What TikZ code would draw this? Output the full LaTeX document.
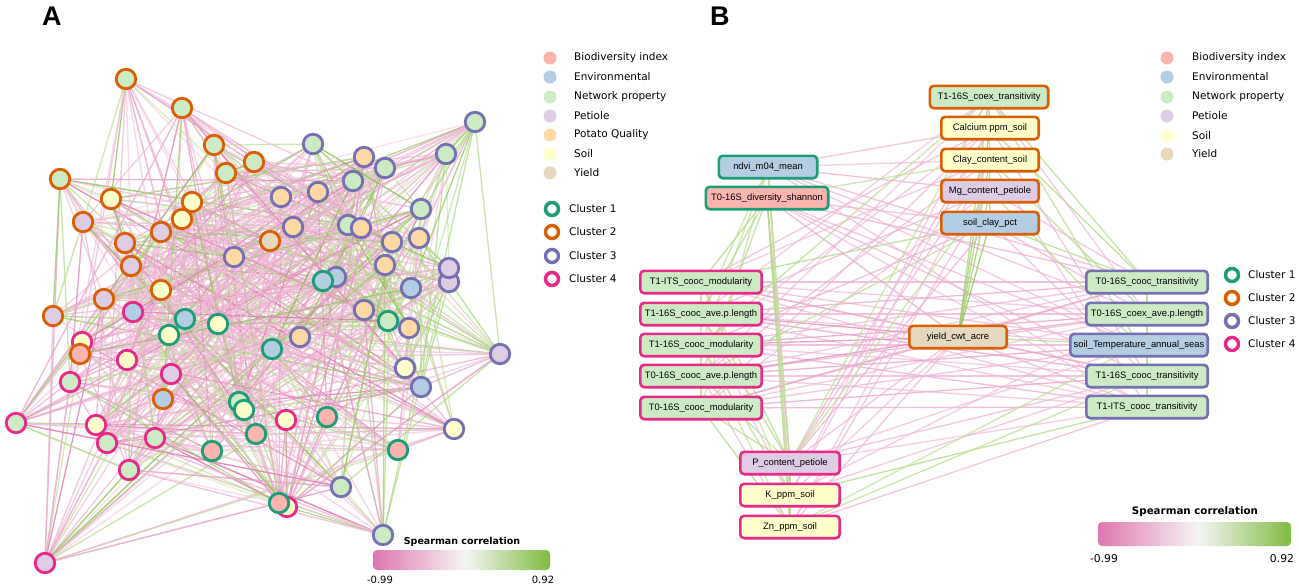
\documentclass[tikz,border=0pt]{standalone}
\usepackage{fontspec}
\setmainfont{DejaVu Sans}
\newfontfamily\arialf{Liberation Sans}
\definecolor{cBio}{HTML}{FBB4AE}
\definecolor{cEnv}{HTML}{B3CDE3}
\definecolor{cNet}{HTML}{CCEBC5}
\definecolor{cPet}{HTML}{DECBE4}
\definecolor{cPot}{HTML}{FED9A6}
\definecolor{cSoil}{HTML}{FFFFCC}
\definecolor{cYld}{HTML}{E5D8BD}
\definecolor{kA}{HTML}{1B9E77}
\definecolor{kB}{HTML}{D95F02}
\definecolor{kC}{HTML}{7570B3}
\definecolor{kD}{HTML}{E7298A}
\definecolor{ePk}{RGB}{222,119,174}
\definecolor{ePkL}{RGB}{243,196,224}
\definecolor{eGr}{RGB}{127,188,65}
\definecolor{eGrL}{RGB}{196,230,160}
\definecolor{eMid}{RGB}{245,245,245}
\pgfdeclarehorizontalshading{spear}{100bp}{color(0bp)=(ePk); color(25bp)=(ePk); color(51bp)=(eMid); color(75bp)=(eGr); color(100bp)=(eGr)}
\pgfdeclarelayer{bg}
\pgfdeclarelayer{edges}
\pgfsetlayers{bg,edges,main}
\def\clus{{0,2,2,2,2,2,2,2,2,2,2,2,2,2,2,2,2,3,3,3,3,3,3,3,3,3,3,3,3,3,3,3,3,3,3,3,1,3,2,4,1,1,1,4,2,4,1,3,3,1,3,3,3,3,4,4,2,1,1,4,4,4,4,4,1,1,1,1,3,4,3,4,1,3,4}}
\tikzset{
  vtx/.style={circle, minimum size=19.5pt, inner sep=0pt, line width=2.8pt},
  fB/.style={fill=cBio}, fE/.style={fill=cEnv}, fN/.style={fill=cNet},
  fP/.style={fill=cPet}, fQ/.style={fill=cPot}, fS/.style={fill=cSoil}, fY/.style={fill=cYld},
  k1/.style={draw=kA}, k2/.style={draw=kB}, k3/.style={draw=kC}, k4/.style={draw=kD},
  legdot/.style={circle, minimum size=13pt, inner sep=0pt},
  legring/.style={circle, minimum size=13pt, inner sep=0pt, line width=3.5pt, fill=white},
  legtxt/.style={anchor=west, inner sep=0pt, font=\fontsize{10.5}{12}\selectfont},
  bx/.style={rectangle, rounded corners=4pt, line width=2.6pt, minimum height=22.4pt, inner sep=0pt, font=\arialf\fontsize{9.4}{11}\selectfont},
  cbtitle/.style={inner sep=0pt, font=\bfseries\fontsize{9.5}{11}\selectfont},
  cblab/.style={inner sep=0pt, font=\fontsize{10}{12}\selectfont},
  panel/.style={anchor=base west, inner sep=0pt, font=\arialf\bfseries\fontsize{27}{30}\selectfont},
  pkedge/.style={color=ePk!#1!ePkL, line width=1.3pt},
  gredge/.style={color=eGr!#1!eGrL, line width=1.3pt}
}
\begin{document}
\begin{tikzpicture}[x=1pt,y=-1pt]
\useasboundingbox (0,0) rectangle (1299,587);
\begin{pgfonlayer}{bg}
\fill[white] (0,0) rectangle (1299,587);
\end{pgfonlayer}
\node[panel] (pA) at (42,25) {A};
\node[panel] (pB) at (710,25) {B};
% ---------------- Panel A nodes
\node[vtx,fN,k2] (a1) at (126,79) {};
\node[vtx,fN,k2] (a2) at (182,108) {};
\node[vtx,fN,k2] (a3) at (214,145) {};
\node[vtx,fN,k2] (a4) at (254,162) {};
\node[vtx,fN,k2] (a5) at (226,173) {};
\node[vtx,fN,k2] (a6) at (60,179) {};
\node[vtx,fS,k2] (a7) at (111,199) {};
\node[vtx,fS,k2] (a8) at (192,202) {};
\node[vtx,fS,k2] (a9) at (182,219) {};
\node[vtx,fP,k2] (a10) at (83,222) {};
\node[vtx,fP,k2] (a11) at (161,232) {};
\node[vtx,fP,k2] (a12) at (125,243) {};
\node[vtx,fP,k2] (a13) at (131,266) {};
\node[vtx,fS,k2] (a14) at (161,290) {};
\node[vtx,fP,k2] (a15) at (104,299) {};
\node[vtx,fY,k2] (a16) at (270,241) {};
\node[vtx,fN,k3] (a17) at (313,144) {};
\node[vtx,fQ,k3] (a18) at (364,157) {};
\node[vtx,fN,k3] (a19) at (385,168) {};
\node[vtx,fN,k3] (a20) at (353,181) {};
\node[vtx,fQ,k3] (a21) at (318,192) {};
\node[vtx,fQ,k3] (a22) at (281,197) {};
\node[vtx,fN,k3] (a23) at (475,122) {};
\node[vtx,fN,k3] (a24) at (446,154) {};
\node[vtx,fN,k3] (a25) at (421,209) {};
\node[vtx,fQ,k3] (a26) at (293,227) {};
\node[vtx,fN,k3] (a27) at (348,225) {};
\node[vtx,fQ,k3] (a28) at (361,228) {};
\node[vtx,fQ,k3] (a29) at (392,242) {};
\node[vtx,fQ,k3] (a30) at (419,238) {};
\node[vtx,fQ,k3] (a31) at (234,257) {};
\node[vtx,fQ,k3] (a32) at (385,265) {};
\node[vtx,fP,k3] (a34) at (449,282) {};
\node[vtx,fP,k3] (a33) at (449,268) {};
\node[vtx,fE,k3] (a35) at (336,277) {};
\node[vtx,fE,k1] (a36) at (323,281) {};
\node[vtx,fE,k3] (a37) at (411,288) {};
\node[vtx,fP,k2] (a38) at (53,316) {};
\node[vtx,fE,k4] (a39) at (133,312) {};
\node[vtx,fE,k1] (a40) at (185,319) {};
\node[vtx,fS,k1] (a41) at (169,335) {};
\node[vtx,fS,k1] (a42) at (218,324) {};
\node[vtx,fS,k4] (a43) at (82,342) {};
\node[vtx,fB,k2] (a44) at (80,354) {};
\node[vtx,fS,k4] (a45) at (127,360) {};
\node[vtx,fE,k1] (a46) at (272,349) {};
\node[vtx,fQ,k3] (a47) at (300,337) {};
\node[vtx,fQ,k3] (a48) at (364,310) {};
\node[vtx,fN,k1] (a49) at (388,321) {};
\node[vtx,fQ,k3] (a50) at (409,328) {};
\node[vtx,fP,k3] (a51) at (500,354) {};
\node[vtx,fS,k3] (a52) at (405,368) {};
\node[vtx,fE,k3] (a53) at (421,387) {};
\node[vtx,fN,k4] (a54) at (70,382) {};
\node[vtx,fP,k4] (a55) at (171,374) {};
\node[vtx,fE,k2] (a56) at (163,399) {};
\node[vtx,fN,k1] (a57) at (239,402) {};
\node[vtx,fS,k1] (a58) at (244,410) {};
\node[vtx,fN,k4] (a59) at (16,423) {};
\node[vtx,fS,k4] (a60) at (96,425) {};
\node[vtx,fN,k4] (a61) at (107,443) {};
\node[vtx,fN,k4] (a62) at (155,438) {};
\node[vtx,fS,k4] (a63) at (286,420) {};
\node[vtx,fB,k1] (a64) at (327,417) {};
\node[vtx,fB,k1] (a65) at (256,434) {};
\node[vtx,fB,k1] (a66) at (212,451) {};
\node[vtx,fB,k1] (a67) at (398,450) {};
\node[vtx,fS,k3] (a68) at (454,429) {};
\node[vtx,fN,k4] (a69) at (129,470) {};
\node[vtx,fN,k3] (a70) at (341,487) {};
\node[vtx,fS,k4] (a71) at (287,507) {};
\node[vtx,fB,k1] (a72) at (279,503) {};
\node[vtx,fN,k3] (a73) at (383,535) {};
\node[vtx,fP,k4] (a74) at (45,563) {};
% ---------------- Panel A edges
\begin{pgfonlayer}{edges}
\pgfmathsetseed{2024}
\foreach \k in {1,...,800}{
  \pgfmathrandominteger{\ii}{1}{74}
  \pgfmathrandominteger{\jj}{1}{74}
  \pgfmathtruncatemacro\ci{\clus[\ii]}
  \pgfmathtruncatemacro\cj{\clus[\jj]}
  \pgfmathsetmacro\rr{rnd}
  \pgfmathsetmacro\op{0.45+0.4*rnd}
  \pgfmathsetmacro\tt{rnd}
  \pgfmathtruncatemacro\mm{100*\tt*\tt}
  \ifnum\ci=\cj
    \ifdim\rr pt<0.75pt \def\ec{gredge}\else\def\ec{pkedge}\fi
  \else
    \ifdim\rr pt<0.2pt \def\ec{gredge}\else\def\ec{pkedge}\fi
  \fi
  \ifnum\ii=\jj\else
    \draw[\ec=\mm, opacity=\op] (a\ii.center) -- (a\jj.center);
  \fi
}
\end{pgfonlayer}
% ---------------- Panel A legend
\node[legdot,fill=cBio] (la1) at (550,58) {};
\node[legdot,fill=cEnv] (la2) at (550,77) {};
\node[legdot,fill=cNet] (la3) at (550,97) {};
\node[legdot,fill=cPet] (la4) at (550,116) {};
\node[legdot,fill=cPot] (la5) at (550,135) {};
\node[legdot,fill=cSoil] (la6) at (550,154) {};
\node[legdot,fill=cYld] (la7) at (550,173) {};
\node[legtxt] (ta1) at (574,58) {Biodiversity index};
\node[legtxt] (ta2) at (574,77) {Environmental};
\node[legtxt] (ta3) at (574,97) {Network property};
\node[legtxt] (ta4) at (574,116) {Petiole};
\node[legtxt] (ta5) at (574,135) {Potato Quality};
\node[legtxt] (ta6) at (574,154) {Soil};
\node[legtxt] (ta7) at (574,173) {Yield};
\node[legring,draw=kA] (ra1) at (552,209) {};
\node[legring,draw=kB] (ra2) at (552,232) {};
\node[legring,draw=kC] (ra3) at (552,256) {};
\node[legring,draw=kD] (ra4) at (552,279) {};
\node[legtxt] (tra1) at (569,209) {Cluster 1};
\node[legtxt] (tra2) at (569,232) {Cluster 2};
\node[legtxt] (tra3) at (569,256) {Cluster 3};
\node[legtxt] (tra4) at (569,279) {Cluster 4};
% colour bar A
\shade[shading=spear, rounded corners=4pt] (373,550) rectangle (550,570);
\node[cbtitle] (cbta) at (462,542) {Spearman correlation};
\node[cblab] (cbla) at (380,580) {-0.99};
\node[cblab] (cbra) at (543,580) {0.92};
% ---------------- Panel B nodes
\node[bx,fill=cNet,draw=kB,minimum width=118.4pt] (bt1) at (989,97) {T1-16S\_coex\_transitivity};
\node[bx,fill=cSoil,draw=kB,minimum width=97.4pt] (bt2) at (990,128) {Calcium ppm\_soil};
\node[bx,fill=cSoil,draw=kB,minimum width=97.4pt] (bt3) at (990,160) {Clay\_content\_soil};
\node[bx,fill=cPet,draw=kB,minimum width=97.4pt] (bt4) at (990,191) {Mg\_content\_petiole};
\node[bx,fill=cEnv,draw=kB,minimum width=97.4pt] (bt5) at (990,223) {soil\_clay\_pct};
\node[bx,fill=cEnv,draw=kA,minimum width=98.4pt] (bc1) at (768,167) {ndvi\_m04\_mean};
\node[bx,fill=cBio,draw=kA,minimum width=122.4pt] (bc2) at (767,198) {T0-16S\_diversity\_shannon};
\node[bx,fill=cNet,draw=kD,minimum width=121.4pt] (bl1) at (701,282) {T1-ITS\_cooc\_modularity};
\node[bx,fill=cNet,draw=kD,minimum width=121.4pt] (bl2) at (701,314) {T1-16S\_cooc\_ave.p.length};
\node[bx,fill=cNet,draw=kD,minimum width=121.4pt] (bl3) at (701,345) {T1-16S\_cooc\_modularity};
\node[bx,fill=cNet,draw=kD,minimum width=121.4pt] (bl4) at (701,376) {T0-16S\_cooc\_ave.p.length};
\node[bx,fill=cNet,draw=kD,minimum width=121.4pt] (bl5) at (701,408) {T0-16S\_cooc\_modularity};
\node[bx,fill=cYld,draw=kB,minimum width=97.4pt] (by) at (958,337) {yield\_cwt\_acre};
\node[bx,fill=cPet,draw=kD,minimum width=99.4pt] (bp) at (790,463) {P\_content\_petiole};
\node[bx,fill=cSoil,draw=kD,minimum width=99.4pt] (bk) at (790,495) {K\_ppm\_soil};
\node[bx,fill=cSoil,draw=kD,minimum width=99.4pt] (bz) at (790,527) {Zn\_ppm\_soil};
\node[bx,fill=cNet,draw=kC,minimum width=121.4pt] (br1) at (1147,282) {T0-16S\_cooc\_transitivity};
\node[bx,fill=cNet,draw=kC,minimum width=121.4pt] (br2) at (1147,314) {T0-16S\_coex\_ave.p.length};
\node[bx,fill=cEnv,draw=kC,minimum width=137.4pt] (br3) at (1139,345) {soil\_Temperature\_annual\_seas};
\node[bx,fill=cNet,draw=kC,minimum width=121.4pt] (br4) at (1147,376) {T1-16S\_cooc\_transitivity};
\node[bx,fill=cNet,draw=kC,minimum width=121.4pt] (br5) at (1147,407) {T1-ITS\_cooc\_transitivity};
% ---------------- Panel B edges
\begin{pgfonlayer}{edges}
\foreach \a/\b/\c/\o in {
 bl1/br1/pk/30, bl1/br2/pk/10, bl1/br3/pk/20, bl1/br4/pk/10, bl1/br5/pk/20,
 bl2/br1/pk/40, bl2/br2/pk/25, bl2/br3/pk/10, bl2/br4/pk/50, bl2/br5/pk/10,
 bl3/br1/pk/20, bl3/br2/pk/50, bl3/br3/pk/25, bl3/br4/pk/10, bl3/br5/pk/35,
 bl4/br1/pk/10, bl4/br2/pk/25, bl4/br3/pk/50, bl4/br4/pk/20, bl4/br5/pk/10,
 bl5/br1/pk/25, bl5/br2/pk/10, bl5/br3/pk/20, bl5/br4/pk/45, bl5/br5/pk/35,
 bl1/by/pk/40, bl2/by/pk/85, bl3/by/pk/80, bl4/by/pk/85, bl5/by/pk/40,
 bl1/bt2/pk/20, bl1/bt3/pk/10, bl2/bt1/pk/10, bl2/bt4/pk/20, bl3/bt2/pk/10,
 bl3/bt5/pk/30, bl4/bt3/pk/20, bl4/bt1/pk/10, bl5/bt4/pk/10, bl5/bt2/pk/20,
 bl1/bt5/gr/30, bl3/bt1/gr/20, bl4/bt5/gr/15,
 bl1/bc2/gr/30, bl2/bc2/gr/25, bl3/bc1/gr/15, bl4/bc2/gr/25, bl5/bc1/gr/15, bl2/bc1/gr/10,
 bl1/bp/gr/25, bl2/bp/gr/30, bl3/bk/gr/25, bl4/bp/gr/15, bl5/bz/gr/30,
 bl2/bk/pk/10, bl4/bz/pk/20, bl5/bp/gr/25, bl3/bz/gr/10, bl1/bk/gr/10,
 bc1/br1/pk/25, bc1/br2/pk/20, bc1/br3/pk/10, bc2/br1/pk/30, bc2/br3/pk/20,
 bc2/br4/pk/25, bc2/br5/pk/10, bc1/br5/pk/10,
 bc1/bt2/pk/20, bc1/bt4/pk/25, bc2/bt5/pk/20, bc1/bt3/pk/10, bc2/bt3/gr/10,
 bc2/bp/gr/30, bc2/bk/gr/25, bc2/bz/gr/30, bc1/bp/gr/15, bc1/bk/pk/10, bc2/by/pk/35, bc1/bz/gr/10,
 bt1/by/gr/50, bt2/by/gr/60, bt3/by/gr/50, bt4/by/gr/60, bt5/by/gr/85,
 bt1/br1/gr/25, bt2/br1/gr/30, bt3/br2/gr/25, bt4/br1/pk/20, bt5/br2/pk/25,
 bt1/br3/gr/20, bt2/br4/pk/20, bt3/br5/pk/10, bt4/br3/gr/20, bt5/br4/pk/20,
 bt5/br1/gr/25, bt1/br2/pk/10,
 bt2/bp/pk/30, bt3/bp/pk/20, bt1/bk/pk/10, bt4/bz/pk/20, bt5/bp/pk/30,
 bt2/bk/pk/10, bt3/bz/pk/10, bt1/bp/gr/10, bt4/bp/gr/10,
 by/br1/pk/35, by/br2/pk/40, by/br3/gr/25, by/br4/pk/40, by/br5/pk/25,
 by/bp/pk/20, by/bk/pk/10, by/bz/pk/20,
 bp/br4/pk/20, bp/br5/pk/10, bk/br5/gr/30, bk/br4/pk/10, bz/br5/pk/20,
 bz/br3/gr/10, bp/br3/pk/10, bk/br2/pk/10, bz/br4/gr/15,
 br1/br5/gr/40, bt1/bt5/gr/40, bl1/bl5/gr/20, bp/bz/gr/30}
 {\draw[\c edge=\o, opacity=0.75] (\a.center) -- (\b.center);}
\end{pgfonlayer}
% ---------------- Panel B legend
\node[legdot,fill=cBio] (lb1) at (1167,58) {};
\node[legdot,fill=cEnv] (lb2) at (1167,77) {};
\node[legdot,fill=cNet] (lb3) at (1167,97) {};
\node[legdot,fill=cPet] (lb4) at (1167,116) {};
\node[legdot,fill=cSoil] (lb5) at (1167,136) {};
\node[legdot,fill=cYld] (lb6) at (1167,154) {};
\node[legtxt] (tb1) at (1192,58) {Biodiversity index};
\node[legtxt] (tb2) at (1192,77) {Environmental};
\node[legtxt] (tb3) at (1192,97) {Network property};
\node[legtxt] (tb4) at (1192,116) {Petiole};
\node[legtxt] (tb5) at (1192,136) {Soil};
\node[legtxt] (tb6) at (1192,154) {Yield};
\node[legring,draw=kA] (rb1) at (1232,275) {};
\node[legring,draw=kB] (rb2) at (1232,298) {};
\node[legring,draw=kC] (rb3) at (1232,321) {};
\node[legring,draw=kD] (rb4) at (1232,344) {};
\node[legtxt] (trb1) at (1248,275) {Cluster 1};
\node[legtxt] (trb2) at (1248,298) {Cluster 2};
\node[legtxt] (trb3) at (1248,321) {Cluster 3};
\node[legtxt] (trb4) at (1248,344) {Cluster 4};
% colour bar B
\shade[shading=spear, rounded corners=4pt] (1098,522) rectangle (1291,546);
\node[cbtitle,font=\bfseries\fontsize{10.3}{12}\selectfont] (cbtb) at (1195,512) {Spearman correlation};
\node[cblab,font=\fontsize{10.8}{12}\selectfont] (cblb) at (1104,559) {-0.99};
\node[cblab,font=\fontsize{10.8}{12}\selectfont] (cbrb) at (1282,559) {0.92};
\end{tikzpicture}
\end{document}
